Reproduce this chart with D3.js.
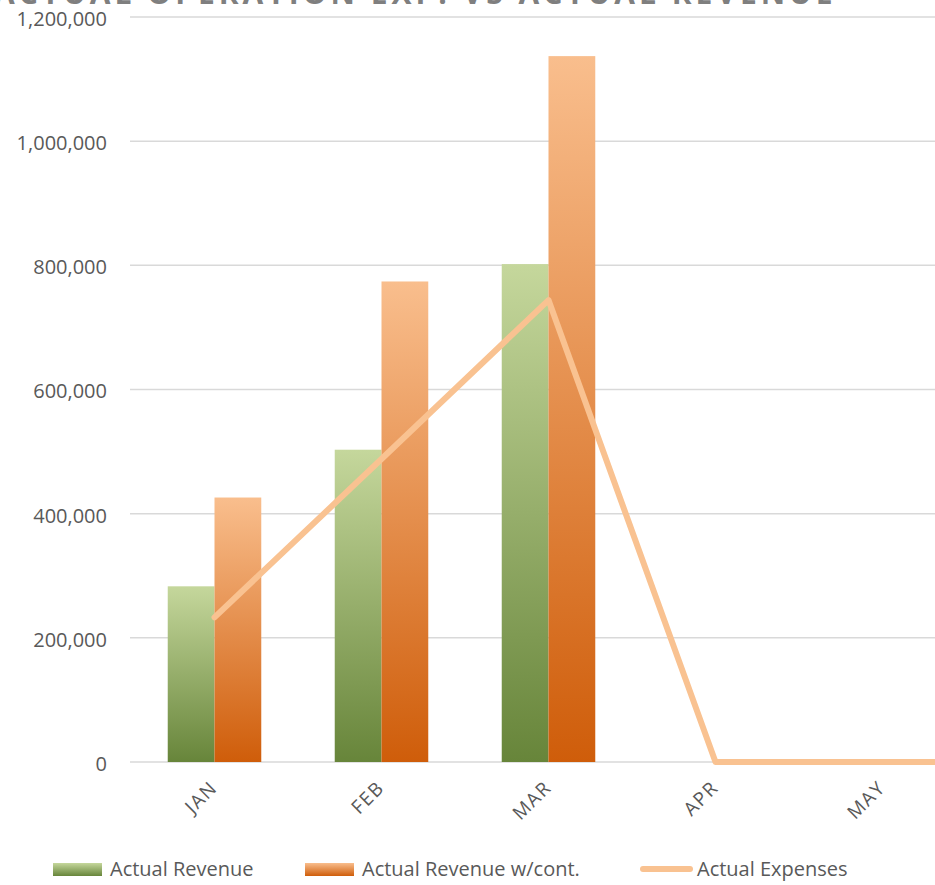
<!DOCTYPE html>
<html>
<head>
<meta charset="utf-8">
<script src="https://cdn.jsdelivr.net/npm/d3@7"></script>
<style>
  html, body { margin: 0; padding: 0; background: #fff; overflow: hidden; }
  svg { display: block; font-family: "Open Sans", "DejaVu Sans", sans-serif; }
</style>
</head>
<body>
<svg id="chart" width="935" height="885"></svg>
<script>
const title = "ACTUAL OPERATION EXP. VS ACTUAL REVENUE";
const months = ["JAN", "FEB", "MAR", "APR", "MAY", "JUN"];
const shownMonths = ["JAN", "FEB", "MAR", "APR", "MAY"];
const actualRevenue = [283000, 503000, 802000, null, null, null];
const actualRevenueCont = [426000, 774000, 1137000, null, null, null];
const actualExpenses = [233000, 488000, 744000, 0, 0, 0];
const yTicks = [0, 200000, 400000, 600000, 800000, 1000000, 1200000];
const seriesNames = ["Actual Revenue", "Actual Revenue w/cont.", "Actual Expenses"];

const svg = d3.select("#chart");
const defs = svg.append("defs");

function grad(id, top, bottom) {
  const g = defs.append("linearGradient").attr("id", id)
    .attr("x1", 0).attr("y1", 0).attr("x2", 0).attr("y2", 1);
  g.append("stop").attr("offset", "0%").attr("stop-color", top);
  g.append("stop").attr("offset", "100%").attr("stop-color", bottom);
}
grad("gGreen", "#c5d79c", "#67853a");
grad("gOrange", "#f9be8d", "#cf5d0a");

const x = d3.scaleBand().domain(months)
  .range([131, 131 + months.length * 167])
  .paddingInner(0.44).paddingOuter(0.22);
const y = d3.scaleLinear().domain([0, 1200000]).range([762, 17]);
const sub = d3.scaleBand().domain([0, 1]).range([0, x.bandwidth()]);

// Title (clipped at top, as in the reference)
svg.append("text").attr("x", -6).attr("y", 4)
  .attr("font-size", 30).attr("font-weight", "bold")
  .attr("fill", "#7f7f7f").attr("letter-spacing", 4)
  .text(title);

// Y axis labels
const yAxis = d3.axisLeft(y).tickValues(yTicks)
  .tickSize(0).tickPadding(0).tickFormat(d3.format(","));
const gy = svg.append("g").attr("transform", "translate(107,2)").call(yAxis);
gy.select(".domain").remove();
gy.selectAll("text").attr("font-size", 20).attr("fill", "#595959")
  .attr("font-family", "Open Sans, sans-serif");

// Grid
svg.append("g").selectAll("line").data(yTicks).join("line")
  .attr("x1", 130).attr("x2", 935)
  .attr("y1", d => y(d)).attr("y2", d => y(d))
  .attr("stroke", "#d9d9d9").attr("stroke-width", 1.5);

// Bars
const bars = svg.append("g");
months.forEach((m, i) => {
  [[actualRevenue[i], "url(#gGreen)", 0], [actualRevenueCont[i], "url(#gOrange)", 1]].forEach(([v, f, k]) => {
    if (v == null) return;
    bars.append("rect")
      .attr("x", x(m) + sub(k))
      .attr("width", sub.bandwidth())
      .attr("y", y(v))
      .attr("height", y(0) - y(v))
      .attr("fill", f);
  });
});

// Line
const line = d3.line()
  .x((d, i) => x(months[i]) + x.bandwidth() / 2)
  .y(d => y(d));
svg.append("path").datum(actualExpenses)
  .attr("d", line)
  .attr("fill", "none").attr("stroke", "#f9c291")
  .attr("stroke-width", 6).attr("stroke-linejoin", "round").attr("stroke-linecap", "round");

// X labels
const xAxis = d3.axisBottom(x).tickValues(shownMonths).tickSize(0).tickPadding(0);
const gx = svg.append("g").call(xAxis);
gx.select(".domain").remove();
gx.selectAll(".tick text")
  .attr("font-size", 19).attr("fill", "#595959")
  .attr("font-family", "Open Sans, sans-serif")
  .attr("text-anchor", "end")
  .attr("dy", null).attr("y", null)
  .attr("transform", "translate(4,789) rotate(-45)")
  .attr("letter-spacing", 1.5);

// Legend
const leg = svg.append("g").attr("font-size", 20).attr("fill", "#595959");
const legItems = [
  { name: seriesNames[0], x: 53, type: "rect", fill: "url(#gGreen)" },
  { name: seriesNames[1], x: 305, type: "rect", fill: "url(#gOrange)" },
  { name: seriesNames[2], x: 640, type: "line", fill: "#f9c291" }
];
legItems.forEach(it => {
  if (it.type === "rect") {
    leg.append("rect").attr("x", it.x).attr("y", 863).attr("width", 49).attr("height", 13).attr("fill", it.fill);
  } else {
    leg.append("line").attr("x1", it.x + 3).attr("x2", it.x + 50).attr("y1", 869).attr("y2", 869)
      .attr("stroke", it.fill).attr("stroke-width", 6).attr("stroke-linecap", "round");
  }
  leg.append("text").attr("x", it.x + 57).attr("y", 876).attr("fill", "#595959").text(it.name);
});
</script>
</body>
</html>
